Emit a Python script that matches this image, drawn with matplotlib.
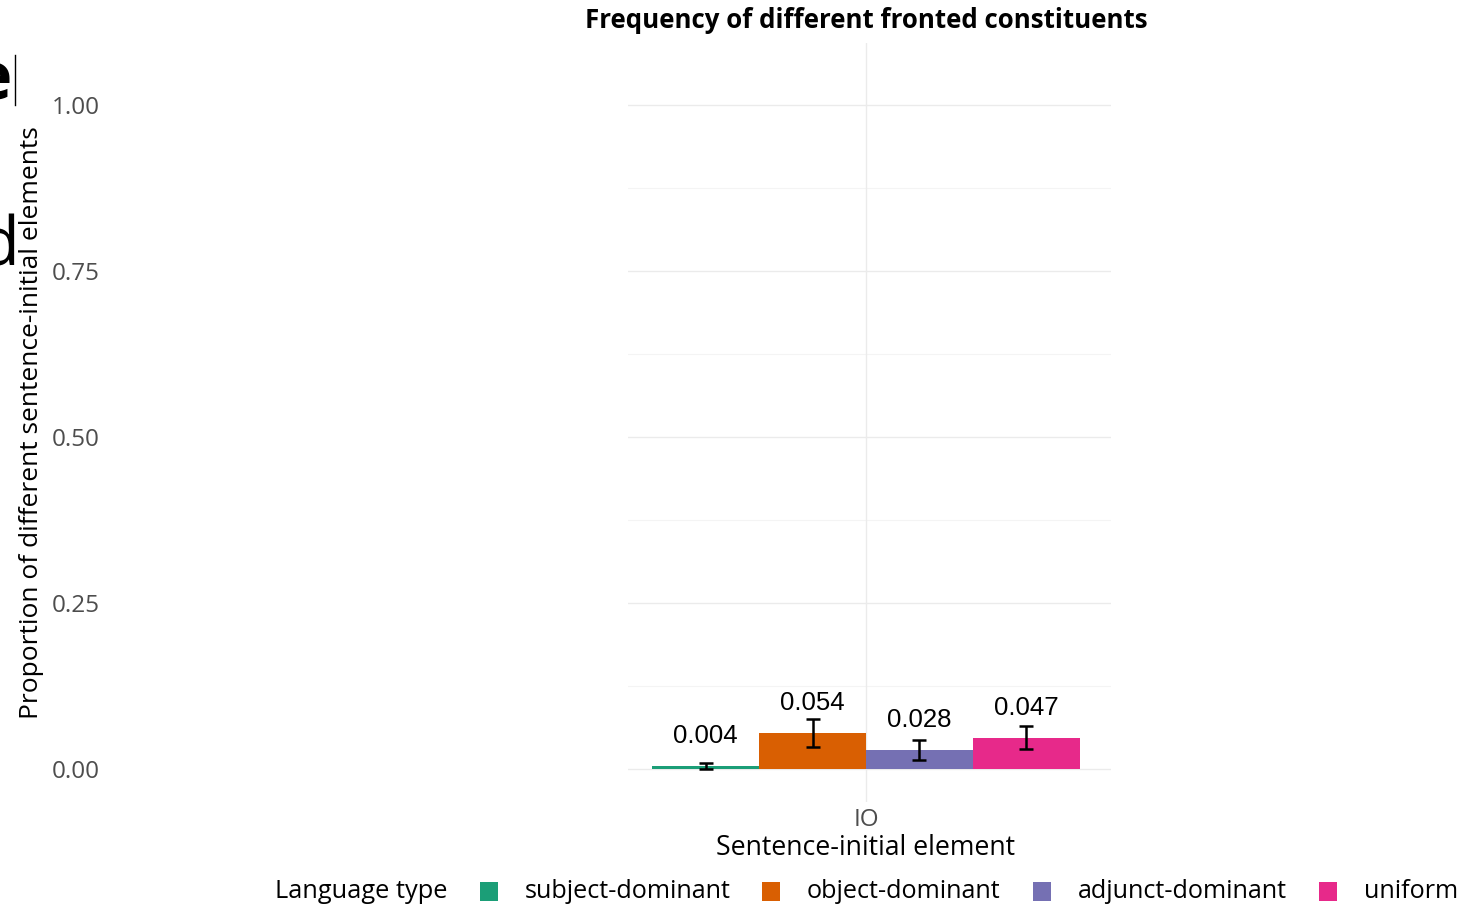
import matplotlib
matplotlib.use("Agg")
import matplotlib.pyplot as plt
from matplotlib.patches import Rectangle
from matplotlib.lines import Line2D
import matplotlib.transforms as mtrans
import numpy as np

categories = ["IO"]
groups = ["subject-dominant", "object-dominant", "adjunct-dominant", "uniform"]
values = [0.004, 0.054, 0.028, 0.047]
err_low = [0.000, 0.033, 0.014, 0.030]
err_high = [0.009, 0.075, 0.043, 0.065]
labels = ["0.004", "0.054", "0.028", "0.047"]
colors = ["#1b9e77", "#d95f02", "#7570b3", "#e7298a"]
yticks = [0.00, 0.25, 0.50, 0.75, 1.00]
ytick_labels = ["0.00", "0.25", "0.50", "0.75", "1.00"]

W, H = 1481, 911
fig = plt.figure(figsize=(W / 100, H / 100), dpi=100)
plt.rcParams['font.family'] = ['Open Sans', 'DejaVu Sans']

# axes position in pixels
x0, x1 = 628, 1111
y_top, y_bot = 43.0, 802.2
ax = fig.add_axes([x0 / W, 1 - y_bot / H, (x1 - x0) / W, (y_bot - y_top) / H])

ax.set_ylim(-0.05, 1.0934)
ax.set_xlim(1 - 238 / 475, 1 + 245 / 475)

n = len(groups)
total_w = 0.9
bw = total_w / n
xc = 1.0
for i, (g, v, lo, hi, lab, c) in enumerate(zip(groups, values, err_low, err_high, labels, colors)):
    x = xc - total_w / 2 + bw * (i + 0.5)
    ax.bar(x, v, width=bw, color=c, zorder=2, linewidth=0)
    ax.errorbar(x, v, yerr=[[v - lo], [hi - v]], fmt='none', ecolor='black',
                elinewidth=1.8, capsize=5, capthick=1.8, zorder=3)
    ax.text(x, v + 0.027, lab, ha='center', va='bottom', fontsize=18.5,
            family=['Liberation Sans', 'DejaVu Sans'], color='black', zorder=4)

# grid
for yv in yticks:
    ax.axhline(yv, color='#ebebeb', lw=1.0, zorder=0)
for yv in np.array(yticks[:-1]) + 0.125:
    ax.axhline(yv, color='#f4f4f4', lw=0.8, zorder=0)
ax.axvline(1.0, color='#ebebeb', lw=1.0, zorder=0)

for s in ax.spines.values():
    s.set_visible(False)
ax.set_xticks([1.0])
ax.set_xticklabels(categories, fontsize=17.5, color='#4d4d4d')
ax.set_yticks([])
ax.tick_params(length=0, pad=4)

# y tick labels placed at far left
btf = mtrans.blended_transform_factory(fig.transFigure, ax.transData)
for yv, tl in zip(yticks, ytick_labels):
    ax.text(100 / W, yv, tl, transform=btf, ha='right', va='center_baseline',
            fontsize=17.5, color='#4d4d4d')

fig.text(32 / W, 1 - 423 / H, "Proportion of different sentence-initial elements",
         rotation=90, ha='center', va='center', fontsize=19.0, color='black')
fig.text(866 / W, 1 - 848 / H, "Sentence-initial element", ha='center', va='center',
         fontsize=19.2, color='black')
fig.text(866 / W, 1 - 21 / H, "Frequency of different fronted constituents", ha='center',
         va='center', fontsize=18.6, fontweight='bold', color='black')

# legend
fig.text(275 / W, 1 - 892 / H, "Language type", ha='left', va='center', fontsize=18.3, color='black')
key_x = [480, 762, 1033, 1319]
for kx, g, c in zip(key_x, groups, colors):
    fig.patches.append(Rectangle((kx / W, 1 - 901 / H), 18 / W, 19 / H, transform=fig.transFigure,
                                 facecolor=c, edgecolor='none'))
    fig.text((kx + 45) / W, 1 - 892 / H, g, ha='left', va='center', fontsize=18.1, color='black')

# clipped fragments at the left edge
fig.text(12 / W, 1 - 82 / H, "e", ha='right', va='center', fontsize=48, fontweight='bold', color='black')
fig.text(19 / W, 1 - 248 / H, "d", ha='right', va='center', fontsize=48, color='black')
fig.lines.append(Line2D([15 / W, 15 / W], [1 - 55 / H, 1 - 105 / H], transform=fig.transFigure,
                        color='black', lw=1))

fig.savefig("out.png", dpi=100, facecolor='white')
